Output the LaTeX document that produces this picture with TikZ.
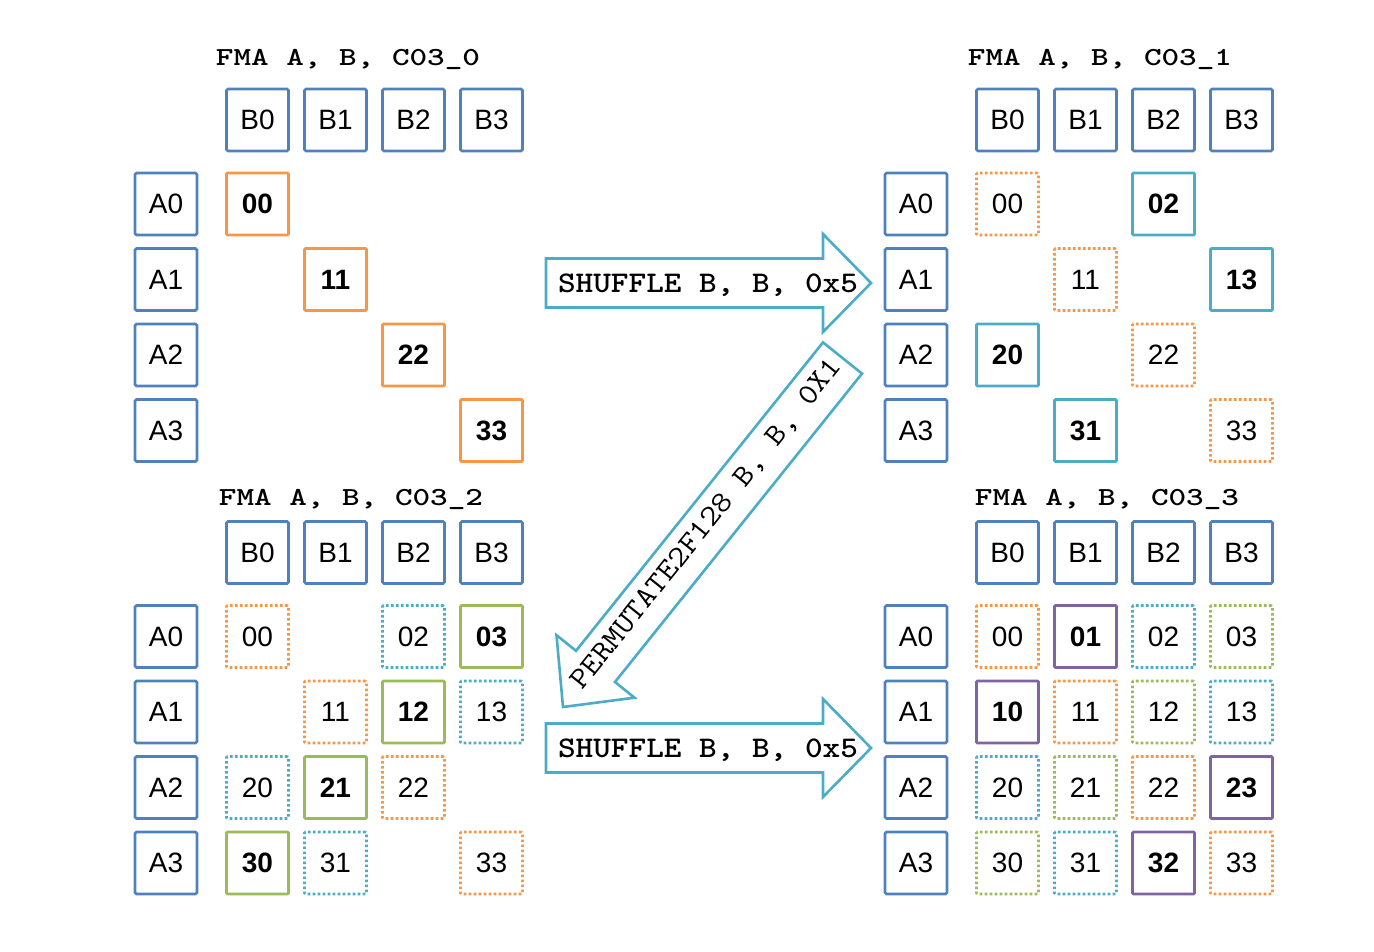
\documentclass[tikz,border=0pt]{standalone}
\usepackage{fontspec}
\setmainfont{Liberation Sans}
\definecolor{regblue}{HTML}{4F81BD}
\definecolor{corange}{HTML}{F79646}
\definecolor{caqua}{HTML}{4BACC6}
\definecolor{cgreen}{HTML}{9BBB59}
\definecolor{cpurple}{HTML}{8064A2}
\tikzset{
  regbox/.style={draw=regblue, line width=2.6pt, minimum size=62pt, inner sep=0pt, rounded corners=1.5pt, font=\fontsize{28}{30}\selectfont},
  solidcell/.style={draw=#1, line width=2.6pt, minimum size=62pt, inner sep=0pt, rounded corners=1pt, font=\fontsize{28}{30}\selectfont\bfseries},
  dotcell/.style={draw=#1, line width=2.6pt, dash pattern=on 2.6pt off 2.4pt, minimum size=62pt, inner sep=0pt, rounded corners=1pt, font=\fontsize{28}{30}\selectfont},
  fmatitle/.style={anchor=base, inner sep=0pt, font=\ttfamily\bfseries\fontsize{26}{26}\selectfont},
  optext/.style={inner sep=0pt, font=\ttfamily\bfseries\fontsize{30}{30}\selectfont},
  blockarrow/.style={draw=caqua, line width=2.6pt, fill=white, line join=miter},
}
\newcommand\quadrant[5]{% #1 name, #2 dx, #3 dy, #4 title x, #5 title text
  \node[fmatitle] (#1title) at (#4, {#3+66+(#3>0 ? 6.5 : 0)}) {\scalebox{1.29}[1]{#5}};
  \foreach \i/\cx in {0/257.5,1/335.5,2/413.5,3/491.5}
    \node[regbox] (#1B\i) at ({#2+\cx}, {#3+120}) {B\i};
  \foreach \i/\cy in {0/204,1/279.5,2/355,3/430.5}
    \node[regbox] (#1A\i) at ({#2+166}, {#3+\cy}) {A\i};
}
\newcommand\cellS[6]{\node[solidcell=#6] (#1c#4#5) at ({#2+257.5+78*#5},{#3+204+75.5*#4}) {#4#5};}
\newcommand\cellD[6]{\node[dotcell=#6] (#1c#4#5) at ({#2+257.5+78*#5},{#3+204+75.5*#4}) {#4#5};}
\begin{document}
\begin{tikzpicture}[x=1pt,y=-1pt]
\useasboundingbox (0,0) rectangle (1374,952);
% ---------- quadrant 0 ----------
\quadrant{tl}{0}{0}{348}{FMA A, B, C03\_0}
\cellS{tl}{0}{0}{0}{0}{corange}
\cellS{tl}{0}{0}{1}{1}{corange}
\cellS{tl}{0}{0}{2}{2}{corange}
\cellS{tl}{0}{0}{3}{3}{corange}
% ---------- quadrant 1 ----------
\quadrant{tr}{750}{0}{1100}{FMA A, B, C03\_1}
\cellD{tr}{750}{0}{0}{0}{corange}
\cellD{tr}{750}{0}{1}{1}{corange}
\cellD{tr}{750}{0}{2}{2}{corange}
\cellD{tr}{750}{0}{3}{3}{corange}
\cellS{tr}{750}{0}{0}{2}{caqua}
\cellS{tr}{750}{0}{1}{3}{caqua}
\cellS{tr}{750}{0}{2}{0}{caqua}
\cellS{tr}{750}{0}{3}{1}{caqua}
% ---------- quadrant 2 ----------
\quadrant{bl}{0}{432.5}{351}{FMA A, B, C03\_2}
\cellD{bl}{0}{432.5}{0}{0}{corange}
\cellD{bl}{0}{432.5}{1}{1}{corange}
\cellD{bl}{0}{432.5}{2}{2}{corange}
\cellD{bl}{0}{432.5}{3}{3}{corange}
\cellD{bl}{0}{432.5}{0}{2}{caqua}
\cellD{bl}{0}{432.5}{1}{3}{caqua}
\cellD{bl}{0}{432.5}{2}{0}{caqua}
\cellD{bl}{0}{432.5}{3}{1}{caqua}
\cellS{bl}{0}{432.5}{0}{3}{cgreen}
\cellS{bl}{0}{432.5}{1}{2}{cgreen}
\cellS{bl}{0}{432.5}{2}{1}{cgreen}
\cellS{bl}{0}{432.5}{3}{0}{cgreen}
% ---------- quadrant 3 ----------
\quadrant{br}{750}{432.5}{1107}{FMA A, B, C03\_3}
\cellD{br}{750}{432.5}{0}{0}{corange}
\cellD{br}{750}{432.5}{1}{1}{corange}
\cellD{br}{750}{432.5}{2}{2}{corange}
\cellD{br}{750}{432.5}{3}{3}{corange}
\cellD{br}{750}{432.5}{0}{2}{caqua}
\cellD{br}{750}{432.5}{1}{3}{caqua}
\cellD{br}{750}{432.5}{2}{0}{caqua}
\cellD{br}{750}{432.5}{3}{1}{caqua}
\cellD{br}{750}{432.5}{0}{3}{cgreen}
\cellD{br}{750}{432.5}{1}{2}{cgreen}
\cellD{br}{750}{432.5}{2}{1}{cgreen}
\cellD{br}{750}{432.5}{3}{0}{cgreen}
\cellS{br}{750}{432.5}{0}{1}{cpurple}
\cellS{br}{750}{432.5}{1}{0}{cpurple}
\cellS{br}{750}{432.5}{2}{3}{cpurple}
\cellS{br}{750}{432.5}{3}{2}{cpurple}
% ---------- block arrows ----------
\draw[blockarrow] (546,258.5) -- (823,258.5) -- (823,234) -- (871,283) -- (823,332) -- (823,307.5) -- (546,307.5) -- cycle;
\node[optext, anchor=base] (shuf1) at (708,292) {\scalebox{1.12}[1]{SHUFFLE B, B, 0x5}};
\draw[blockarrow] (546,723.5) -- (823,723.5) -- (823,699) -- (871,748) -- (823,797) -- (823,772.5) -- (546,772.5) -- cycle;
\node[optext, anchor=base] (shuf2) at (708,757.5) {\scalebox{1.12}[1]{SHUFFLE B, B, 0x5}};
\draw[blockarrow] (823,342.4) -- (862,373.6) -- (615,682) -- (634.5,697.7) -- (563,707) -- (556.5,635.2) -- (576,650.8) -- cycle;
\node[optext, font=\ttfamily\fontsize{30}{30}\selectfont, rotate=51.3] (perm) at (707,524) {\scalebox{1.12}[1]{PERMUTATE2F128 B, B, 0X1}};
\end{tikzpicture}
\end{document}
